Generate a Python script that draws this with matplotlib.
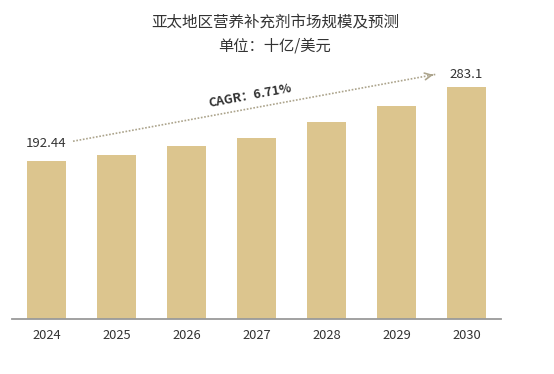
"""
Asia-Pacific nutritional supplement market size bar chart.
"""
import matplotlib
matplotlib.use('Agg')
import matplotlib.pyplot as plt

plt.rcParams['font.family'] = ['Noto Sans CJK SC', 'DejaVu Sans']

years = ['2024', '2025', '2026', '2027', '2028', '2029', '2030']
market = [192.44, 200.6, 210.7, 220.4, 240.3, 260.3, 283.1]
title = '亚太地区营养补充剂市场规模及预测'
subtitle = '单位：十亿/美元'
cagr_label = 'CAGR：6.71%'

bar_color = '#dcc58e'
text_color = '#333333'

fig = plt.figure(figsize=(5.54, 3.74), dpi=100)
ax = fig.add_axes([12/554, 55/374, 489/554, 246/374])

x = list(range(len(years)))
ax.bar(x, market, width=0.557, color=bar_color)

ax.set_xlim(-0.493, 6.493)
ax.set_ylim(0, 300)
ax.set_xticks(x)
ax.set_xticklabels(years, fontsize=9.3, color=text_color)
ax.tick_params(axis='x', length=0, pad=7)
ax.set_yticks([])
for side in ['top', 'right', 'left']:
    ax.spines[side].set_visible(False)
ax.spines['bottom'].set_color('#9a9a9a')
ax.spines['bottom'].set_linewidth(1.3)

# first and last value labels
ax.text(x[0], market[0] + 21, '%.2f' % market[0], ha='center', va='center',
        fontsize=9.5, color=text_color)
ax.text(x[-1], market[-1] + 15, '%.1f' % market[-1], ha='center',
        va='center', fontsize=9.5, color=text_color)

# dotted growth arrow
x0, y0 = 0.379, 216.8
x1, y1 = 5.564, 298.4
ax.plot([x0, x1], [y0, y1], linestyle=(0, (1, 1)), color='#aca48c',
        linewidth=1.2, clip_on=False)
ax.annotate('', xy=(x1, y1), xytext=(x1 - 0.1, y1 - 1.6),
            arrowprops=dict(arrowstyle='->', color='#aca48c', lw=1.2,
                            mutation_scale=12),
            annotation_clip=False)
ax.text(2.91, 272.8, cagr_label, ha='center', va='center', rotation=10.5,
        rotation_mode='anchor', fontsize=9, fontweight='bold',
        color=text_color)

fig.text(275/554, 1 - 22/374, title, ha='center', va='center', fontsize=11.2,
         fontweight='medium', color=text_color)
fig.text(275/554, 1 - 46/374, subtitle, ha='center', va='center',
         fontsize=11, fontweight='medium', color=text_color)

fig.savefig('out.png', dpi=100)
